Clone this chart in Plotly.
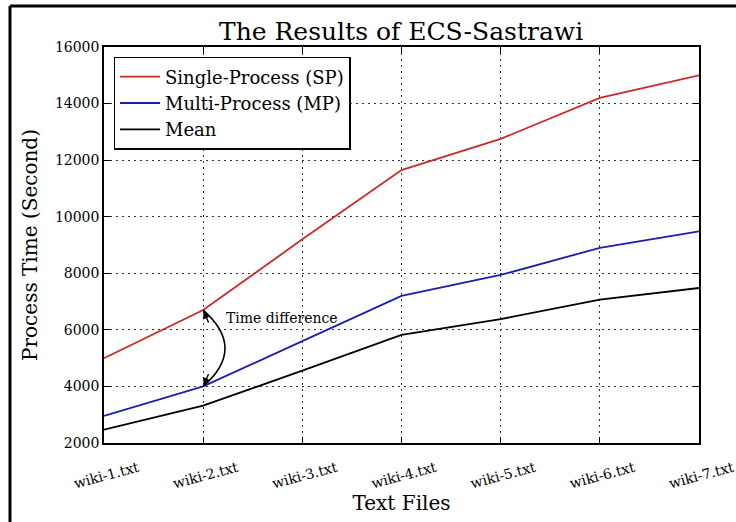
import plotly.graph_objects as go

files = ["wiki-1.txt", "wiki-2.txt", "wiki-3.txt", "wiki-4.txt", "wiki-5.txt", "wiki-6.txt", "wiki-7.txt"]
sp = [5000, 6700, 9200, 11650, 12750, 14200, 15000]
mp = [2960, 4000, 5600, 7200, 7940, 8900, 9480]
mean = [2470, 3320, 4560, 5820, 6380, 7070, 7480]
yticks = [2000, 4000, 6000, 8000, 10000, 12000, 14000, 16000]

FONT = "DejaVu Serif"
idx = list(range(len(files)))

fig = go.Figure()
fig.add_trace(go.Scatter(x=idx, y=sp, mode="lines", name="Single-Process (SP)",
                         line=dict(color="#cc2a2a", width=1.8)))
fig.add_trace(go.Scatter(x=idx, y=mp, mode="lines", name="Multi-Process (MP)",
                         line=dict(color="#1c1cb4", width=1.8)))
fig.add_trace(go.Scatter(x=idx, y=mean, mode="lines", name="Mean",
                         line=dict(color="black", width=1.8)))

# curved double arrow between SP and MP at wiki-2
k = 1
top, bot = sp[k], mp[k]
mid = (top + bot) / 2
fig.add_shape(type="path", xref="x", yref="y",
              path=f"M {k},{top} Q {k + 0.44},{mid} {k},{bot}",
              line=dict(color="black", width=1.6))
fig.add_annotation(x=k, y=top, xref="x", yref="y", ax=6, ay=14, text="",
                   showarrow=True, arrowhead=2, arrowsize=1.1, arrowwidth=1.4,
                   arrowcolor="black", standoff=1)
fig.add_annotation(x=k, y=bot, xref="x", yref="y", ax=6, ay=-14, text="",
                   showarrow=True, arrowhead=2, arrowsize=1.1, arrowwidth=1.4,
                   arrowcolor="black", standoff=1)
fig.add_annotation(x=k + 0.21, y=top - 280, xref="x", yref="y", text="Time difference",
                   showarrow=False, xanchor="left", yanchor="middle",
                   font=dict(family=FONT, size=14, color="black"))

# outer frame (left and top edges visible)
fig.add_shape(type="line", xref="paper", yref="paper",
              x0=-0.158, x1=-0.158, y0=1.1035, y1=-0.4,
              line=dict(color="black", width=3))
fig.add_shape(type="line", xref="paper", yref="paper",
              x0=-0.158, x1=1.2, y0=1.1035, y1=1.1035,
              line=dict(color="black", width=3))

fig.update_layout(
    width=736, height=522,
    margin=dict(l=104, r=37, t=47, b=79),
    paper_bgcolor="white", plot_bgcolor="white",
    font=dict(family=FONT, color="black"),
    title=dict(text="The Results of ECS-Sastrawi", x=0.545, xanchor="center",
               y=0.94, yanchor="middle", font=dict(family=FONT, size=25, color="black")),
    legend=dict(x=0.016, y=0.975, xanchor="left", yanchor="top",
                bordercolor="black", borderwidth=1.5, bgcolor="white",
                font=dict(family=FONT, size=18, color="black"),
                tracegroupgap=0, itemwidth=40),
    showlegend=True,
)
fig.update_xaxes(
    range=[0, len(files) - 1], tickmode="array", tickvals=idx, ticktext=files,
    tickangle=-15, ticklabelshift=34, ticklabelstandoff=10, ticklabeloverflow="allow",
    automargin=False,
    ticks="inside", ticklen=6, tickcolor="black",
    showline=True, linecolor="black", linewidth=1.5, mirror="ticks",
    showgrid=True, gridcolor="#333333", griddash="2px,4px", gridwidth=1,
    zeroline=False,
    tickfont=dict(family=FONT, size=14, color="black"),
    title=dict(text="Text Files", font=dict(family=FONT, size=20, color="black"), standoff=4),
)
fig.update_yaxes(
    range=[2000, 16000], tickmode="array", tickvals=yticks, tickformat="d",
    automargin=False,
    ticks="inside", ticklen=6, tickcolor="black",
    showline=True, linecolor="black", linewidth=1.5, mirror="ticks",
    showgrid=True, gridcolor="#333333", griddash="2px,4px", gridwidth=1,
    zeroline=False,
    tickfont=dict(family=FONT, size=14, color="black"),
    title=dict(text="Process Time (Second)", font=dict(family=FONT, size=20, color="black"), standoff=12),
)

fig.write_html("out.html", config={"displayModeBar": False},
               post_script="document.body.style.margin='0px';")
